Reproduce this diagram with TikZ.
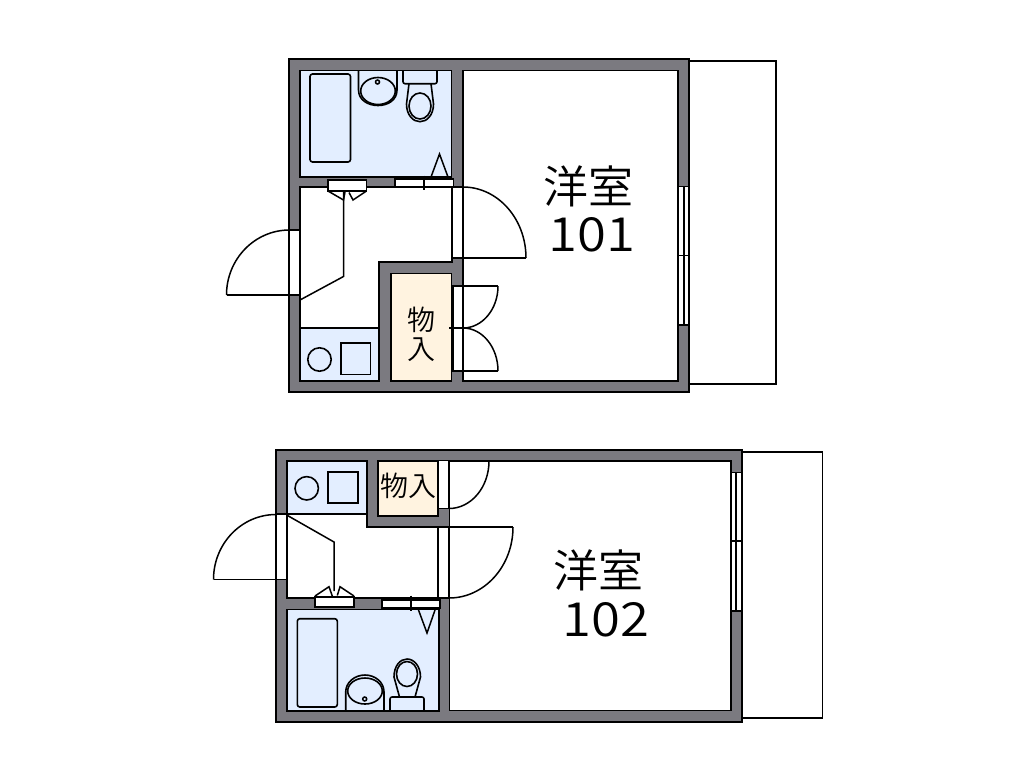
\documentclass[tikz,border=0pt]{standalone}
\usepackage{fontspec}
\newfontfamily\cjk{Noto Sans CJK JP DemiLight}
\newfontfamily\digitsf[FakeStretch=1.12]{Noto Sans CJK JP DemiLight}
\definecolor{wallgray}{HTML}{7B7A80}
\definecolor{wetblue}{HTML}{E3EEFF}
\definecolor{cream}{HTML}{FFF3E0}
\tikzset{
 wall/.style={draw=black,line width=1.7pt,fill=wallgray,line join=miter},
 room/.style={draw=black,line width=1.7pt,fill=white},
 wet/.style={draw=black,line width=1.7pt,fill=wetblue},
 store/.style={draw=black,line width=1.7pt,fill=cream},
 opening/.style={draw=black,line width=1.7pt,fill=white},
 fix/.style={draw=black,line width=1.6pt},
 thin/.style={draw=black,line width=1.5pt},
 big/.style={font=\cjk\fontsize{45}{45}\selectfont,inner sep=0pt,text=black},
 num/.style={font=\digitsf\fontsize{47}{47}\selectfont,inner sep=0pt,text=black},
 small/.style={font=\cjk\fontsize{28}{28}\selectfont,inner sep=0pt,text=black},
}
\begin{document}
\begin{tikzpicture}[x=1pt,y=-1pt]
\useasboundingbox (0,0) rectangle (1016,772);
% ===== Unit 101 =====
\draw[fix,fill=white] (689,61) rectangle (776,384);
\draw[wall] (289,59) rectangle (689,392);
\draw[room] (463,70.5) rectangle (678,381);
\draw[wet] (300,70.5) rectangle (451.5,177);
\draw[room] (300,187) -- (452,187) -- (452,262) -- (379,262) -- (379,328) -- (300,328) -- cycle;
\draw[wet] (300,328) rectangle (379,381);
\draw[store] (391,273.5) rectangle (451.5,381);
% bath fixtures
\draw[fix,rounded corners=2.5pt] (310,74) rectangle (350.5,162);
\draw[fix] (358.5,70.5) -- (358.5,90) .. controls (358.5,100) and (368,105.5) .. (378,105.5) .. controls (388,105.5) and (397,100) .. (397,90) -- (397,70.5);
\draw[fix] (378,91) ellipse [x radius=17.3,y radius=13.5];
\draw[thin] (377.5,82) circle (2);
\draw[fix,rounded corners=2pt] (403,70.5) -- (403,83.7) -- (437,83.7) -- (437,70.5);
\draw[fix] (409,83.7) -- (406.5,104) .. controls (406.5,115) and (413,121.7) .. (420,121.7) .. controls (427,121.7) and (433.5,115) .. (433.5,104) -- (431,83.7);
\draw[fix] (420,106) ellipse [x radius=11,y radius=13];
\draw[thin] (431,177) -- (439.5,154) -- (448,177);
% openings
\draw[opening] (328,180) rectangle (366.5,191);
\draw[thin] (328,191) -- (343.5,200) -- (345,192);
\draw[thin] (349,192.5) -- (353,200) -- (366.5,191);
\draw[thin] (343.5,192) -- (343.5,276.5) -- (300,300);
\draw[opening] (395,179) rectangle (453.5,187);
\draw[fix] (424,175.5) -- (424,190);
\draw[opening] (452,187) rectangle (463,258);
\draw[thin] (463,258) -- (526,258);
\draw[thin] (526,258) arc[start angle=0,end angle=-90,x radius=63,y radius=71];
\draw[opening] (289.5,230) rectangle (300,295);
\draw[thin] (289.5,295) -- (226.5,295);
\draw[thin] (226.5,295) arc[start angle=180,end angle=270,x radius=63,y radius=65];
\draw[opening] (453,286) rectangle (463,371);
\draw[thin] (463,286) -- (498,286);
\draw[thin] (498,286) arc[start angle=0,end angle=90,x radius=35,y radius=42];
\draw[thin] (463,371) -- (498,371);
\draw[thin] (498,371) arc[start angle=0,end angle=-90,x radius=35,y radius=43];
\draw[thin] (449,328) -- (463,328);
% window
\draw[opening] (678,186.5) rectangle (689,325);
\draw[thin] (684,186.5) -- (684,325);
\draw[thin] (677,255.5) -- (689,255.5);
% wet area appliances
\draw[fix] (319.5,359.5) circle (11.7);
\draw[fix] (340.7,343) rectangle (370.3,374.3);
% labels
\node[small] (s1a) at (421,320) {物};
\node[small] (s1b) at (421,350) {入};
\node[big] (r1a) at (588,186) {洋室};
\node[num] (r1b) at (592,235) {101};
% ===== Unit 102 =====
\draw[fix,fill=white] (742,452) rectangle (822.5,718);
\draw[wall] (276,450) rectangle (742,722);
\draw[room] (449.5,461) rectangle (731,710.5);
\draw[wet] (287,461) rectangle (367,514);
\draw[store] (377.7,461) rectangle (438,515.7);
\draw[room] (287,514) -- (367,514) -- (367,527) -- (438,527) -- (438,598) -- (287,598) -- cycle;
\draw[wet] (287,609.5) rectangle (439.3,710.7);
% bath fixtures
\draw[fix,rounded corners=2.5pt] (297.3,618.7) rectangle (337.3,707);
\draw[fix] (345.7,710.5) -- (345.7,692) .. controls (345.7,682) and (355,675) .. (365,675) .. controls (375,675) and (384,682) .. (384,692) -- (384,710.5);
\draw[fix] (365,691) ellipse [x radius=17.3,y radius=13];
\draw[thin] (364.7,699) circle (2);
\draw[fix,rounded corners=2pt] (390,710.5) -- (390,697) -- (424,697) -- (424,710.5);
\draw[fix] (399.5,697) -- (394,677) .. controls (394,666) and (400,659) .. (407,659) .. controls (414,659) and (420.5,666) .. (420.5,677) -- (415,697);
\draw[fix] (407,674) ellipse [x radius=10.5,y radius=12.5];
\draw[thin] (418.5,610) -- (427,633) -- (435,610);
% openings
\draw[opening] (315,597) rectangle (354,607);
\draw[thin] (315,596) -- (329,586.7) -- (332.3,596);
\draw[thin] (337.3,595.5) -- (340,586.7) -- (354,596);
\draw[thin] (284,513.5) -- (334,542) -- (334,591);
\draw[opening] (381.7,600) rectangle (440.3,608);
\draw[fix] (411,595.5) -- (411,611);
\draw[opening] (438,460.5) rectangle (449,508.5);
\draw[thin] (449,508.5) arc[start angle=90,end angle=0,x radius=40,y radius=47.5];
\draw[opening] (438,527) rectangle (449,598);
\draw[thin] (449,527) -- (513,527);
\draw[thin] (513,527) arc[start angle=0,end angle=90,x radius=64,y radius=71];
\draw[opening] (276,514) rectangle (287,579.5);
\draw[line width=2.5pt] (276,514) -- (276,579.5);
\draw[thin] (276,579.5) -- (213.5,579.5);
\draw[thin] (213.5,579.5) arc[start angle=180,end angle=270,x radius=62.5,y radius=65];
% window
\draw[opening] (731,472.5) rectangle (741.7,611);
\draw[thin] (736,472.5) -- (736,611);
\draw[thin] (730,541) -- (741.7,541);
% wet area appliances
\draw[fix] (306.7,488.3) circle (11.7);
\draw[fix] (328,471.7) rectangle (358,503);
% labels
\node[small] (s2) at (408,486) {物入};
\node[big] (r2a) at (598,570) {洋室};
\node[num] (r2b) at (606,619.5) {102};
\end{tikzpicture}
\end{document}
